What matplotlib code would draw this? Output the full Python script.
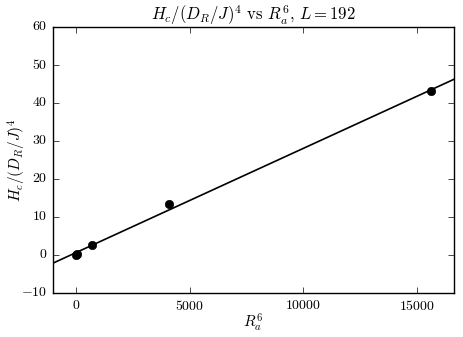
import numpy as np
import matplotlib
matplotlib.use("Agg")
import matplotlib.pyplot as plt

# R_a^6 values and the measured H_c/(D_R/J)^4
ra6 = [1, 64, 729, 4096, 15625]
hc = [0.0, 0.2, 2.7, 13.3, 43.1]

plt.style.use("classic")
plt.rcParams.update({
    "font.family": "serif",
    "font.serif": ["cmr10"],
    "mathtext.fontset": "cm",
    "axes.formatter.use_mathtext": True,
    "figure.facecolor": "white",
    "savefig.facecolor": "white",
})

fig = plt.figure(figsize=(4.63, 3.37), dpi=100)
ax = fig.add_axes([0.1145, 0.1306, 0.866, 0.7894])

ax.plot(ra6, hc, "ko", markersize=6)

# linear fit
slope, icpt = np.polyfit(ra6, hc, 1)
xl = np.array([-1000, 16625])
ax.plot(xl, slope * xl + icpt, "k-", linewidth=1.2)

ax.set_xlim(-1000, 16625)
ax.set_ylim(-10, 60)
ax.set_xticks([0, 5000, 10000, 15000])
ax.tick_params(labelsize=10)
ax.set_xlabel(r"$R_a^6$", fontsize=11)
ax.set_ylabel(r"$H_c/(D_R/J)^4$", fontsize=11)
ax.xaxis.set_label_coords(0.5, -0.072)
ax.yaxis.set_label_coords(-0.062, 0.5)
ax.set_title(r"$H_c/(D_R/J)^4$ vs $R_a^6$, $L=192$", fontsize=12)

fig.savefig("out.png", dpi=100)
